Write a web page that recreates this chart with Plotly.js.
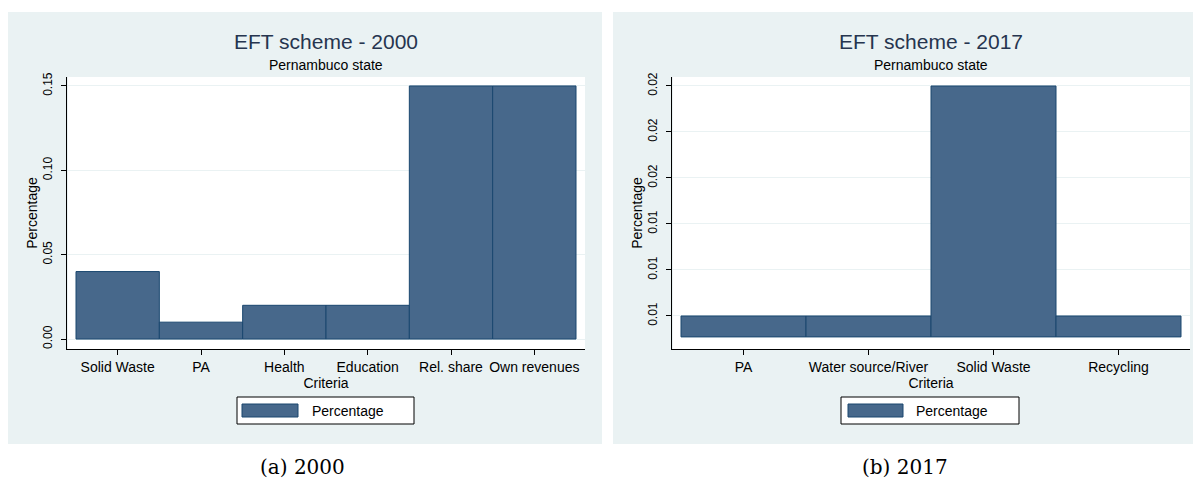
<!DOCTYPE html>
<html>
<head>
<meta charset="utf-8">
<script src="https://cdn.plot.ly/plotly-3.0.1.min.js"></script>
<style>
  html, body { margin: 0; padding: 0; background: #ffffff; }
  #chart { width: 1195px; height: 482px; }
</style>
</head>
<body>
<div id="chart"></div>
<script>
// ---- data ----
const criteria2000 = ['Solid Waste', 'PA', 'Health', 'Education', 'Rel. share', 'Own revenues'];
const pct2000 = [0.04, 0.01, 0.02, 0.02, 0.15, 0.15];
const yTicks2000 = [0, 0.05, 0.10, 0.15];
const yTickLabels2000 = ['0.00', '0.05', '0.10', '0.15'];

const criteria2017 = ['PA', 'Water source/River', 'Solid Waste', 'Recycling'];
const pct2017 = [0.01, 0.01, 0.02, 0.01];
const yTicks2017 = [0.010, 0.012, 0.014, 0.016, 0.018, 0.020];
const yTickLabels2017 = ['0.01', '0.01', '0.01', '0.02', '0.02', '0.02'];

const titles = ['EFT scheme - 2000', 'EFT scheme - 2017'];
const subtitle = 'Pernambuco state';
const captions = ['(a) 2000', '(b) 2017'];
const seriesName = 'Percentage';
const xTitle = 'Criteria';

// ---- style ----
const W = 1195, H = 482;
const px = x => x / W;
const py = y => 1 - y / H;
const PANEL = '#EAF2F3';
const FILL = 'rgb(71,104,139)';
const EDGE = '#1A476F';
const FONT = 'Liberation Sans, Arial, sans-serif';
const base2017 = 0.00909;   // Stata draws the bars from just below the lowest tick

const traces = [
  {
    type: 'bar', x: criteria2000, y: pct2000, name: seriesName,
    xaxis: 'x', yaxis: 'y', showlegend: false,
    marker: { color: FILL, line: { color: EDGE, width: 1 } },
    hoverinfo: 'x+y'
  },
  {
    type: 'bar', x: criteria2017, y: pct2017.map(v => v - base2017), base: base2017,
    name: seriesName, xaxis: 'x2', yaxis: 'y2', showlegend: false,
    marker: { color: FILL, line: { color: EDGE, width: 1 } },
    hoverinfo: 'x'
  }
];

const commonX = {
  type: 'category', showline: true, linecolor: '#000', linewidth: 1,
  ticks: 'outside', ticklen: 5, tickcolor: '#000', showgrid: false, zeroline: false,
  tickfont: { family: FONT, size: 14, color: '#000' }, fixedrange: true
};
const commonY = {
  showline: true, linecolor: '#000', linewidth: 1,
  ticks: 'outside', ticklen: 5, tickcolor: '#000', tickangle: -90,
  showgrid: true, gridcolor: PANEL, gridwidth: 1, zeroline: false,
  tickfont: { family: FONT, size: 12, color: '#000' }, ticklabelstandoff: 4,
  fixedrange: true
};

const layout = {
  width: W, height: H,
  margin: { l: 0, r: 0, t: 0, b: 0 },
  paper_bgcolor: '#ffffff', plot_bgcolor: '#ffffff',
  bargap: 0, showlegend: false,
  font: { family: FONT, color: '#000' },
  xaxis: Object.assign({}, commonX, {
    domain: [px(67), px(585)], anchor: 'y', range: [-0.608, 5.608],
    title: { text: xTitle, standoff: 0, font: { family: FONT, size: 14, color: '#000' } }
  }),
  yaxis: Object.assign({}, commonY, {
    domain: [py(349), py(77)], anchor: 'x', range: [-0.0059, 0.1553],
    tickvals: yTicks2000, ticktext: yTickLabels2000,
    title: { text: seriesName, standoff: 0, font: { family: FONT, size: 14, color: '#000' } }
  }),
  xaxis2: Object.assign({}, commonX, {
    domain: [px(672), px(1190)], anchor: 'y2', range: [-0.572, 3.572],
    title: { text: xTitle, standoff: 0, font: { family: FONT, size: 14, color: '#000' } }
  }),
  yaxis2: Object.assign({}, commonY, {
    domain: [py(349), py(77)], anchor: 'x2', range: [0.008565, 0.020391],
    tickvals: yTicks2017, ticktext: yTickLabels2017,
    title: { text: seriesName, standoff: 0, font: { family: FONT, size: 14, color: '#000' } }
  }),
  shapes: [],
  annotations: []
};

// panels + white plot regions
const panels = [[8, 602], [613, 1193]];
const plots = [[67, 585], [672, 1190]];
panels.forEach((p, i) => {
  layout.shapes.push({ type: 'rect', xref: 'paper', yref: 'paper', layer: 'below',
    x0: px(p[0]), x1: px(p[1]), y0: py(444), y1: py(12),
    fillcolor: PANEL, line: { width: 0 } });
  layout.shapes.push({ type: 'rect', xref: 'paper', yref: 'paper', layer: 'below',
    x0: px(plots[i][0] + 1), x1: px(plots[i][1]), y0: py(349), y1: py(77),
    fillcolor: '#ffffff', line: { width: 0 } });
});

// titles / subtitles / captions
const centers = [326, 931];
const capCenters = [303, 905];
centers.forEach((c, i) => {
  layout.annotations.push({ xref: 'paper', yref: 'paper', x: px(c), y: py(41),
    xanchor: 'center', yanchor: 'middle', showarrow: false, text: titles[i],
    font: { family: FONT, size: 21, color: '#26354F' } });
  layout.annotations.push({ xref: 'paper', yref: 'paper', x: px(c), y: py(65),
    xanchor: 'center', yanchor: 'middle', showarrow: false, text: subtitle,
    font: { family: FONT, size: 14, color: '#000' } });
  layout.annotations.push({ xref: 'paper', yref: 'paper', x: px(capCenters[i]), y: py(467),
    xanchor: 'center', yanchor: 'middle', showarrow: false, text: captions[i],
    font: { family: 'DejaVu Serif, serif', size: 20, color: '#000' } });
});

// hand-drawn Stata style legends
const legends = [
  { box: [237, 414], sw: [242, 298], tx: 310 },
  { box: [841, 1019], sw: [848, 903], tx: 914 }
];
legends.forEach(l => {
  layout.shapes.push({ type: 'rect', xref: 'paper', yref: 'paper',
    x0: px(l.box[0]), x1: px(l.box[1]), y0: py(424), y1: py(397),
    fillcolor: '#ffffff', line: { color: '#000', width: 1 } });
  layout.shapes.push({ type: 'rect', xref: 'paper', yref: 'paper',
    x0: px(l.sw[0]), x1: px(l.sw[1]), y0: py(417), y1: py(404),
    fillcolor: FILL, line: { color: EDGE, width: 1 } });
  layout.annotations.push({ xref: 'paper', yref: 'paper', x: px(l.tx), y: py(411),
    xanchor: 'left', yanchor: 'middle', showarrow: false, text: seriesName,
    font: { family: FONT, size: 14, color: '#000' } });
});

Plotly.newPlot('chart', traces, layout, { staticPlot: true, displayModeBar: false });
</script>
</body>
</html>
